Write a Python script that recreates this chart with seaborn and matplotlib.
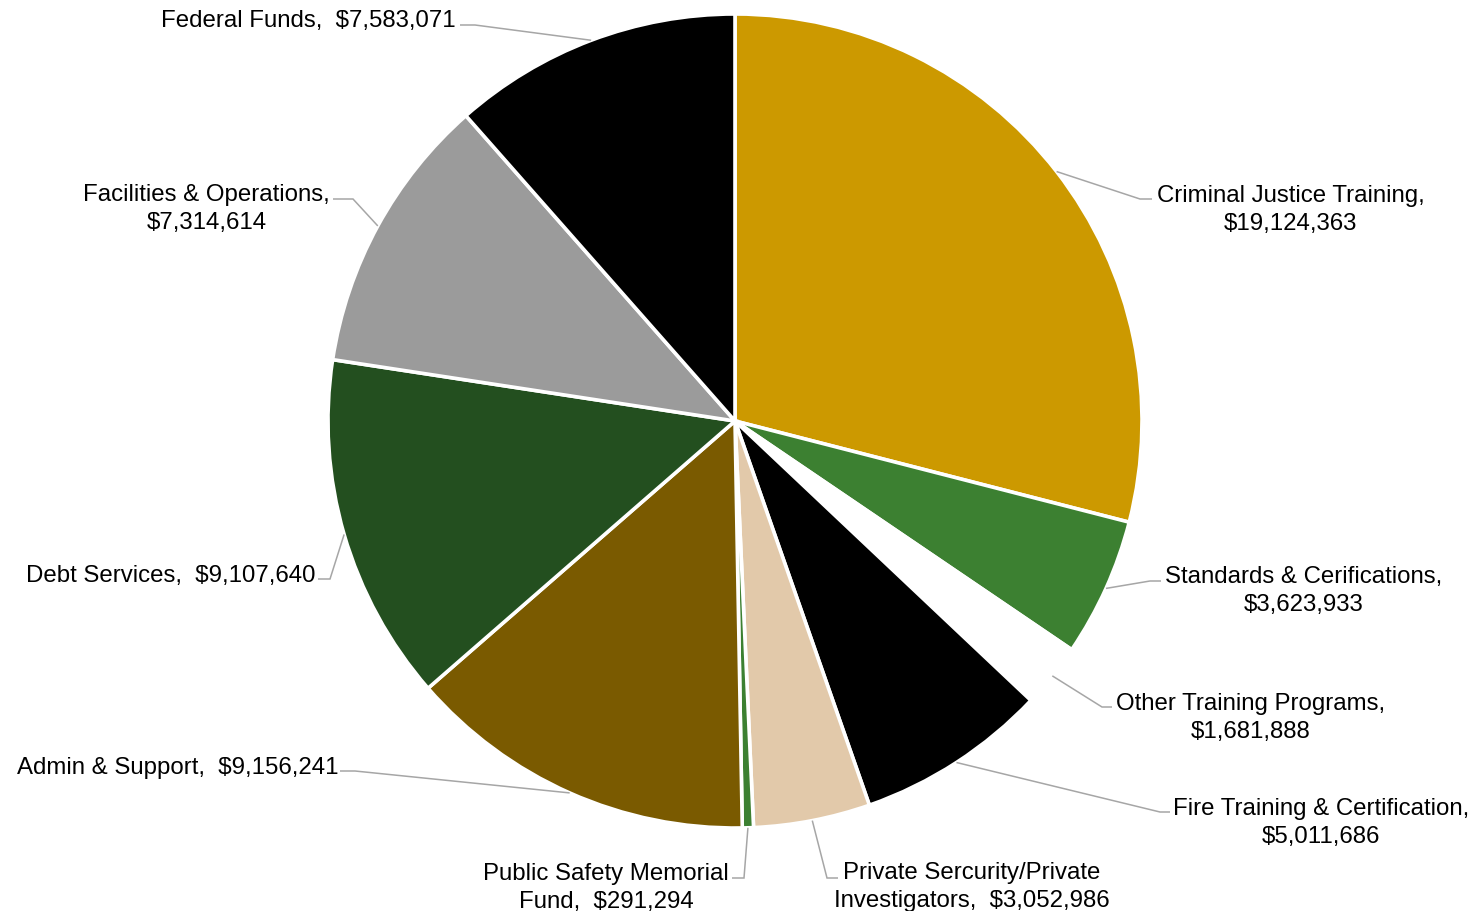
import numpy as np
import matplotlib
matplotlib.use("Agg")
import matplotlib.pyplot as plt
import seaborn as sns

# Budget by program, clockwise from 12 o'clock
categories = [
    "Criminal Justice Training",
    "Standards & Cerifications",
    "Other Training Programs",
    "Fire Training & Certification",
    "Private Sercurity/Private Investigators",
    "Public Safety Memorial Fund",
    "Admin & Support",
    "Debt Services",
    "Facilities & Operations",
    "Federal Funds",
]
amounts = [19124363, 3623933, 1681888, 5011686, 3052986,
           291294, 9156241, 9107640, 7314614, 7583071]
# How each label is broken across lines
label_text = [
    "Criminal Justice Training,\n${v}",
    "Standards & Cerifications,\n${v}",
    "Other Training Programs,\n${v}",
    "Fire Training & Certification,\n${v}",
    "Private Sercurity/Private\nInvestigators,  ${v}",
    "Public Safety Memorial\nFund,  ${v}",
    "Admin & Support,  ${v}",
    "Debt Services,  ${v}",
    "Facilities & Operations,\n${v}",
    "Federal Funds,  ${v}",
]
colors = ["#CC9900", "#3C8031", "#FFFFFF", "#000000", "#E2C9AA",
          "#3C8031", "#7A5A00", "#234F1F", "#9B9B9B", "#000000"]

W, H = 1482, 912

# Leader-line layout in figure pixels (y measured from top):
# elbow point, end of the horizontal stub, text anchor, alignment
layout = [
    dict(elbow=(1140, 200), stub=1152, text=(1157, 210), ha="left"),
    dict(elbow=(1150, 582), stub=1161, text=(1165, 591), ha="left"),
    dict(elbow=(1102, 708), stub=1112, text=(1116, 718), ha="left"),
    dict(elbow=(1160, 813), stub=1170, text=(1173, 823), ha="left"),
    dict(elbow=(827, 879), stub=838, text=(834, 887), ha="left"),
    dict(elbow=(744, 879), stub=732, text=(729, 888), ha="right"),
    dict(elbow=(355, 772), stub=340, text=(338, 768), ha="right"),
    dict(elbow=(330, 580), stub=318, text=(315, 576), ha="right"),
    dict(elbow=(353, 200), stub=333, text=(330, 209), ha="right"),
    dict(elbow=(475, 26), stub=460, text=(456, 21), ha="right"),
]

sns.set_theme(style="white")
plt.rcParams["font.family"] = ["Liberation Sans", "DejaVu Sans"]

fig = plt.figure(figsize=(W / 100, H / 100), dpi=100)
fig.patch.set_facecolor("white")
ax = fig.add_axes([0, 0, 1, 1])

center = (735, H - 422)
radius = 407
wedges, _ = ax.pie(
    amounts,
    colors=colors,
    startangle=90,
    counterclock=False,
    center=center,
    radius=radius,
    wedgeprops=dict(edgecolor="white", linewidth=2.6),
)
ax.set_xlim(0, W)
ax.set_ylim(0, H)
ax.set_aspect("equal")
ax.axis("off")

line_color = "#A6A6A6"
for w, val, tmpl, lay in zip(wedges, amounts, label_text, layout):
    mid = np.deg2rad((w.theta1 + w.theta2) / 2)
    ax_x = w.center[0] + w.r * np.cos(mid)
    ax_y = w.center[1] + w.r * np.sin(mid)
    ex, ey = lay["elbow"]
    ax.plot([ax_x, ex, lay["stub"]], [ax_y, H - ey, H - ey],
            color=line_color, lw=1.1, solid_joinstyle="miter",
            solid_capstyle="butt", zorder=1)
    tx, ty = lay["text"]
    ax.text(tx, H - ty, tmpl.replace("{v}", f"{val:,}"),
            ha=lay["ha"], va="center", multialignment="center",
            fontsize=17.3, color="black", linespacing=1.33)

fig.savefig("out.png", dpi=100, facecolor="white")
